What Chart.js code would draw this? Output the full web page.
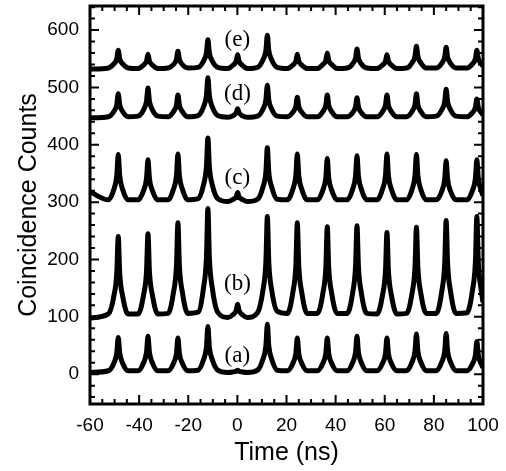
<!DOCTYPE html>
<html lang="en">
<head>
    <meta charset="UTF-8">
    <title>Coincidence Counts vs Time</title>
    <script src="https://cdn.jsdelivr.net/npm/chart.js"></script>
    <style>
        body { margin: 0; background: #fff; }
        #plot { display: block; }
    </style>
</head>
<body>
    <canvas id="plot" width="506" height="471"></canvas>

    <script>
// time axis samples (ns), shared by all five traces
const timeNs = [-60,
    -52.5, -50.3, -49.1, -48.5, -47.9, -46.7, -44.5,
    -40.4, -38.2, -37.0, -36.4, -35.8, -34.6, -32.4,
    -28.2, -26.0, -24.8, -24.2, -23.6, -22.4, -20.2,
    -16.0, -13.8, -12.6, -12.0, -11.4, -10.2, -8.0,
    -3.9, -1.7, -0.5, 0.1, 0.7, 1.9, 4.1,
    8.2, 10.4, 11.6, 12.2, 12.8, 14.0, 16.2,
    20.4, 22.6, 23.8, 24.4, 25.0, 26.2, 28.4,
    32.6, 34.8, 36.0, 36.6, 37.2, 38.4, 40.6,
    44.7, 46.9, 48.1, 48.7, 49.3, 50.5, 52.7,
    56.9, 59.1, 60.3, 60.9, 61.5, 62.7, 64.9,
    68.9, 71.1, 72.3, 72.9, 73.5, 74.7, 76.9,
    81.0, 83.2, 84.4, 85.0, 85.6, 86.8, 89.0,
    93.5, 95.7, 96.9, 97.5, 98.1, 99.3, 100];

// coincidence counts
const traceA = [3,
    6, 19, 37, 64, 37, 19, 6,
    6, 20, 38, 66, 38, 20, 6,
    6, 19, 36, 63, 36, 19, 6,
    7, 25, 47, 83, 47, 25, 7,
    3, 4, 5, 7, 5, 4, 3,
    7, 26, 49, 87, 49, 26, 7,
    6, 19, 36, 63, 36, 19, 6,
    6, 19, 36, 63, 36, 19, 6,
    6, 20, 38, 66, 38, 20, 6,
    6, 19, 36, 63, 36, 19, 6,
    6, 21, 40, 70, 40, 21, 6,
    6, 21, 40, 71, 40, 21, 6,
    6, 18, 33, 57, 33, 18, 11];

const traceB = [98,
    105, 136, 176, 240, 176, 136, 105,
    105, 138, 179, 245, 179, 138, 105,
    106, 143, 189, 264, 189, 143, 106,
    108, 150, 203, 289, 203, 150, 108,
    99, 104, 111, 122, 111, 104, 99,
    107, 146, 195, 275, 195, 146, 110,
    106, 143, 189, 264, 189, 143, 106,
    106, 141, 185, 257, 185, 141, 106,
    106, 141, 187, 259, 187, 141, 106,
    105, 138, 180, 247, 180, 138, 105,
    106, 141, 185, 256, 185, 141, 106,
    106, 144, 192, 268, 192, 144, 106,
    107, 146, 195, 275, 195, 146, 125];

const traceC = [318,
    304, 322, 346, 383, 346, 322, 304,
    304, 320, 341, 374, 341, 320, 304,
    304, 323, 346, 384, 346, 323, 304,
    306, 330, 362, 412, 362, 330, 306,
    301, 305, 309, 317, 309, 305, 301,
    305, 326, 352, 395, 352, 326, 305,
    304, 323, 346, 384, 346, 323, 304,
    304, 321, 342, 376, 342, 321, 304,
    304, 322, 345, 381, 345, 322, 304,
    304, 323, 346, 384, 346, 323, 304,
    304, 322, 346, 383, 346, 322, 304,
    304, 319, 340, 372, 340, 319, 304,
    304, 320, 341, 374, 341, 320, 311];

const traceD = [447,
    449, 458, 470, 489, 470, 458, 449,
    450, 461, 476, 499, 476, 461, 450,
    449, 458, 469, 487, 469, 458, 449,
    451, 466, 486, 517, 486, 466, 451,
    448, 451, 456, 463, 456, 451, 448,
    450, 462, 478, 504, 478, 462, 450,
    449, 457, 467, 483, 467, 457, 449,
    449, 458, 469, 487, 469, 458, 449,
    449, 456, 466, 482, 466, 456, 449,
    449, 458, 469, 487, 469, 458, 449,
    449, 458, 470, 489, 470, 458, 449,
    450, 461, 475, 497, 475, 461, 450,
    449, 456, 465, 480, 465, 456, 452];

const traceE = [532,
    534, 541, 550, 565, 550, 541, 534,
    533, 539, 546, 558, 546, 539, 533,
    534, 540, 549, 563, 549, 540, 534,
    535, 546, 560, 583, 560, 546, 535,
    533, 539, 546, 557, 546, 539, 533,
    535, 548, 564, 591, 564, 548, 535,
    533, 539, 546, 558, 546, 539, 533,
    533, 540, 547, 560, 547, 540, 533,
    534, 541, 551, 567, 551, 541, 534,
    533, 539, 546, 557, 546, 539, 533,
    534, 543, 554, 572, 554, 543, 534,
    534, 542, 553, 570, 553, 542, 534,
    534, 541, 550, 565, 550, 541, 537];

// tick labels and trace tags
const xTicks = [-60, -40, -20, 0, 20, 40, 60, 80, 100];
const yTicks = [0, 100, 200, 300, 400, 500, 600];
const traceTags = ['(a)', '(b)', '(c)', '(d)', '(e)'];
const tagTime = 0;
const tagCounts = [31, 157, 343, 489, 583];

const traces = [traceA, traceB, traceC, traceD, traceE];

// frame with inward ticks on all four sides, plus the (a)-(e) tags
const frameTicks = {
    id: 'frameTicks',
    afterDatasetsDraw(chart) {
        const { ctx, chartArea: a, scales: { x, y } } = chart;
        ctx.save();
        ctx.strokeStyle = '#000';
        ctx.lineWidth = 2;
        ctx.beginPath();
        for (let v = -60; v <= 100; v += 5) {
            const px = x.getPixelForValue(v);
            const len = v % 20 === 0 ? 9 : 5;
            ctx.moveTo(px, a.bottom); ctx.lineTo(px, a.bottom - len);
            ctx.moveTo(px, a.top); ctx.lineTo(px, a.top + len);
        }
        for (let v = -40; v <= 640; v += 20) {
            const py = y.getPixelForValue(v);
            const len = v % 100 === 0 ? 9 : 5;
            ctx.moveTo(a.left, py); ctx.lineTo(a.left + len, py);
            ctx.moveTo(a.right, py); ctx.lineTo(a.right - len, py);
        }
        ctx.stroke();
        ctx.lineWidth = 3;
        ctx.strokeRect(a.left, a.top, a.right - a.left, a.bottom - a.top);

        ctx.fillStyle = '#000';
        ctx.font = '23px "Liberation Serif", "Times New Roman", serif';
        ctx.textAlign = 'center';
        ctx.textBaseline = 'middle';
        traceTags.forEach((tag, i) => {
            ctx.fillText(tag, x.getPixelForValue(tagTime), y.getPixelForValue(tagCounts[i]));
        });
        ctx.restore();
    }
};

const tickFont = { family: '"Liberation Sans", Arial, sans-serif', size: 19 };
const titleFont = { family: '"Liberation Sans", Arial, sans-serif', size: 25 };

new Chart(document.getElementById('plot'), {
    type: 'line',
    data: {
        datasets: traces.map(tr => ({
            data: timeNs.map((t, i) => ({ x: t, y: tr[i] })),
            borderColor: '#000',
            borderWidth: 5,
            pointRadius: 0,
            cubicInterpolationMode: 'monotone',
            fill: false
        }))
    },
    options: {
        responsive: false,
        animation: false,
        devicePixelRatio: 1,
        layout: { padding: { top: 6, right: 23, bottom: 0, left: 0 } },
        plugins: { legend: { display: false }, tooltip: { enabled: false } },
        scales: {
            x: {
                type: 'linear',
                min: -60,
                max: 100,
                afterBuildTicks: s => { s.ticks = xTicks.map(v => ({ value: v })); },
                afterFit: s => { s.height = 67; s.paddingLeft = 0; s.paddingRight = 0; },
                grid: { display: false, drawTicks: false },
                border: { display: false },
                ticks: { color: '#000', font: tickFont, padding: 10, maxRotation: 0 },
                title: { display: true, text: 'Time (ns)', color: '#000', font: titleFont, padding: { top: 0, bottom: 3 } }
            },
            y: {
                type: 'linear',
                min: -52,
                max: 642,
                afterBuildTicks: s => { s.ticks = yTicks.map(v => ({ value: v })); },
                afterFit: s => { s.width = 90; s.paddingTop = 0; s.paddingBottom = 0; },
                grid: { display: false, drawTicks: false },
                border: { display: false },
                ticks: { color: '#000', font: tickFont, padding: 11 },
                title: { display: true, text: 'Coincidence Counts', color: '#000', font: titleFont, padding: { top: 14, bottom: 0 } }
            }
        }
    },
    plugins: [frameTicks]
});
    </script>
</body>
</html>
